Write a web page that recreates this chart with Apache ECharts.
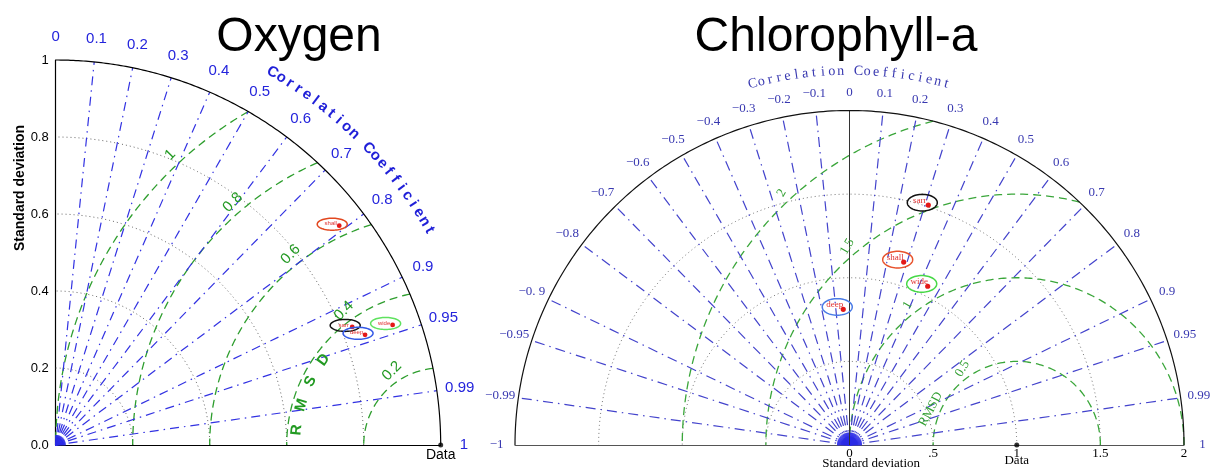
<!DOCTYPE html>
<html><head><meta charset="utf-8">
<script src="https://cdn.jsdelivr.net/npm/echarts@6/dist/echarts.min.js"></script>
<style>html,body{margin:0;padding:0;background:#fff}#c{width:1215px;height:469px}</style>
</head><body><div id="c"></div>
<script>
// ================= DATA =================
const models = ['shall', 'sarr', 'deep', 'wide'];
// Oxygen (normalised standard deviation, correlation)
const oxygenStd  = [0.931, 0.829, 0.853, 0.929];
const oxygenCorr = [0.791, 0.929, 0.942, 0.942];
// Chlorophyll-a
const chlStd  = [1.141, 1.510, 0.812, 1.058];
const chlCorr = [0.284, 0.312, -0.046, 0.442];
const refStd = 1; // "Data"

const oxyStdTicks = [0, 0.2, 0.4, 0.6, 0.8, 1];
const oxyStdTickLabels = ['0.0', '0.2', '0.4', '0.6', '0.8', '1'];
const oxyStdArcs = [0.2, 0.4, 0.6, 0.8];
const oxyCorrTicks = [0, 0.1, 0.2, 0.3, 0.4, 0.5, 0.6, 0.7, 0.8, 0.9, 0.95, 0.99, 1];
const oxyCorrLabels = ['0', '0.1', '0.2', '0.3', '0.4', '0.5', '0.6', '0.7', '0.8', '0.9', '0.95', '0.99', '1'];
const oxyRmsLevels = [0.2, 0.4, 0.6, 0.8, 1];
const oxyRmsLabels = ['0.2', '0.4', '0.6', '0.8', '1'];

const chlStdTicks = [0, 0.5, 1, 1.5, 2];
const chlStdTickLabels = ['0', '.5', '1', '1.5', '2'];
const chlStdArcs = [0.5, 1, 1.5];
const chlCorrTicks = [-1, -0.99, -0.95, -0.9, -0.8, -0.7, -0.6, -0.5, -0.4, -0.3, -0.2, -0.1, 0, 0.1, 0.2, 0.3, 0.4, 0.5, 0.6, 0.7, 0.8, 0.9, 0.95, 0.99, 1];
const chlCorrLabels = ['\u22121', '\u22120.99', '\u22120.95', '\u22120. 9', '\u22120.8', '\u22120.7', '\u22120.6', '\u22120.5', '\u22120.4', '\u22120.3', '\u22120.2', '\u22120.1', '0', '0.1', '0.2', '0.3', '0.4', '0.5', '0.6', '0.7', '0.8', '0.9', '0.95', '0.99', '1'];
const chlRmsLevels = [0.5, 1, 1.5, 2];
const chlRmsLabels = ['0.5', '1', '1.5', '2'];

// ================= STYLE =================
const modelStyle = {
  shall: { left: '#e2471f', right: '#e8522c' },
  sarr:  { left: '#111111', right: '#111111' },
  deep:  { left: '#3358e6', right: '#4a7be6' },
  wide:  { left: '#5fe25f', right: '#46d846' }
};
const SANS = 'Liberation Sans', SERIF = 'Liberation Serif';
const DEG = Math.PI / 180;

// ================= HELPERS =================
function toXY(std, c) { return [std * c, std * Math.sqrt(Math.max(0, 1 - c * c))]; }
function lineSeries(gi, pts, lineStyle, z) {
  return { type: 'line', xAxisIndex: gi, yAxisIndex: gi, data: pts, showSymbol: false, symbol: 'none',
    clip: false, silent: true, animation: false, lineStyle: lineStyle, z: z || 2 };
}
function arcPts(r, a0, a1) {
  const pts = [], n = 240;
  for (let i = 0; i <= n; i++) { const a = (a0 + (a1 - a0) * i / n) * DEG; pts.push([r * Math.cos(a), r * Math.sin(a)]); }
  return pts;
}
function rmsArc(r, ref, R, quadrant) {
  const clamp = v => Math.max(-1, Math.min(1, v));
  const p0 = Math.acos(clamp((R * R - ref * ref - r * r) / (2 * ref * r)));
  const p1 = quadrant ? Math.acos(clamp(-ref / r)) : Math.PI;
  const pts = [], n = 240;
  for (let i = 0; i <= n; i++) { const p = p0 + (p1 - p0) * i / n; pts.push([ref + r * Math.cos(p), r * Math.sin(p)]); }
  return pts;
}
function textSeries(gi, items, z) {
  return { type: 'custom', xAxisIndex: gi, yAxisIndex: gi, clip: false, silent: true, animation: false, z: z || 6,
    data: items.map((d, i) => [d.x, d.y, i]),
    renderItem: (params, api) => {
      const d = items[params.dataIndex]; const p = api.coord([d.x, d.y]);
      return { type: 'text', x: p[0], y: p[1], rotation: (d.rot || 0) * DEG,
        style: { text: d.text, fill: d.color, fontSize: d.size, fontFamily: d.font, fontWeight: d.weight || 'normal',
          align: 'center', verticalAlign: 'middle' } };
    } };
}
function fanSeries(gi, a0, a1, step, radiusPx, color) {
  return { type: 'custom', xAxisIndex: gi, yAxisIndex: gi, clip: false, silent: true, animation: false, z: 3,
    data: [[0, 0]],
    renderItem: (params, api) => {
      const o = api.coord([0, 0]); const children = [];
      for (let a = a0; a <= a1 + 1e-9; a += step) {
        children.push({ type: 'line', shape: { x1: o[0], y1: o[1], x2: o[0] + radiusPx * Math.cos(a * DEG), y2: o[1] - radiusPx * Math.sin(a * DEG) },
          style: { stroke: color, lineWidth: 0.8 } });
      }
      return { type: 'group', children };
    } };
}
function ellipseSeries(gi, stds, corrs, side, cfg) {
  return { type: 'custom', xAxisIndex: gi, yAxisIndex: gi, clip: false, silent: true, animation: false, z: 10,
    data: stds.map((s, i) => toXY(s, corrs[i]).concat([i])),
    renderItem: (params, api) => {
      const i = params.dataIndex; const p = api.coord([api.value(0), api.value(1)]);
      const cx = p[0] + cfg.off[0], cy = p[1] + cfg.off[1]; const pts = [];
      for (let k = 0; k < 64; k++) { const t = k / 64 * 2 * Math.PI; pts.push([cx + cfg.rx * Math.cos(t), cy + cfg.ry * Math.sin(t)]); }
      return { type: 'group', children: [
        { type: 'polygon', shape: { points: pts }, style: { fill: 'none', stroke: modelStyle[models[i]][side], lineWidth: cfg.lw } },
        { type: 'text', x: p[0] + cfg.lab[0], y: p[1] + cfg.lab[1],
          style: { text: models[i], fill: '#e03030', fontSize: cfg.fs, fontFamily: cfg.font, align: 'center', verticalAlign: 'middle' } },
        { type: 'circle', shape: { cx: p[0], cy: p[1], r: cfg.dot }, style: { fill: '#e41818' } }
      ] };
    } };
}

const series = [];
// ================= OXYGEN (grid 0) =================
(function () {
  const gi = 0, R = 1;
  oxyStdArcs.forEach(r => series.push(lineSeries(gi, arcPts(r, 0, 90), { color: '#666', width: 1, type: [1, 3] })));
  oxyRmsLevels.forEach(r => series.push(lineSeries(gi, rmsArc(r, refStd, R, true), { color: '#2e9e2e', width: 1.3, type: [8, 5] })));
  oxyCorrTicks.forEach(c => { if (c > 0 && c < 1) series.push(lineSeries(gi, [[0, 0], toXY(R, c)], { color: '#3232e2', width: 1.2, type: [9, 5, 1.5, 5], dashOffset: 7.5 })); });
  series.push(fanSeries(gi, 0, 90, 2.5, 10, '#2a2ae6'));
  series.push(lineSeries(gi, arcPts(R, 0, 90), { color: '#000', width: 1.2 }, 4));
  const items = [];
  oxyCorrTicks.forEach((c, i) => { const p = toXY(1.06, c); items.push({ x: p[0], y: p[1], text: oxyCorrLabels[i], color: '#2424dc', size: 15, font: SANS }); });
  const cc = 'Correlation Coefficient';
  for (let k = 0; k < cc.length; k++) { const a = 59.8 - k * (29.9 / (cc.length - 1)); items.push({ x: 1.12 * Math.cos(a * DEG), y: 1.12 * Math.sin(a * DEG), text: cc[k], rot: a - 90, color: '#1f1fd8', size: 15, weight: 'bold', font: SANS }); }
  oxyRmsLevels.forEach((r, i) => { const ph = (121 + 12 * r) * DEG; items.push({ x: refStd + (r + 0.03) * Math.cos(ph), y: (r + 0.03) * Math.sin(ph), text: oxyRmsLabels[i], rot: 45, color: '#249a24', size: 15, font: SANS }); });
  ['R', 'M', 'S', 'D'].forEach((ch, k) => { const ph = 174 - 10 * k; items.push({ x: refStd + 0.376 * Math.cos(ph * DEG), y: 0.376 * Math.sin(ph * DEG), text: ch, rot: ph - 90, color: '#229a22', size: 15, weight: 'bold', font: SANS }); });
  items.push({ x: refStd, y: -0.027, text: 'Data', color: '#000', size: 14, font: SANS });
  series.push(textSeries(gi, items));
  series.push({ type: 'scatter', xAxisIndex: gi, yAxisIndex: gi, data: [[refStd, 0]], symbolSize: 5, itemStyle: { color: '#000' }, silent: true, animation: false, clip: false, z: 8 });
  series.push(ellipseSeries(gi, oxygenStd, oxygenCorr, 'left', { off: [-7, -1.5], rx: 15, ry: 6, lw: 1.5, lab: [-8.5, -2], fs: 6, font: SANS, dot: 2.4 }));
})();

// ================= CHLOROPHYLL-A (grid 1) =================
(function () {
  const gi = 1, R = 2;
  chlStdArcs.forEach(r => series.push(lineSeries(gi, arcPts(r, 0, 180), { color: '#777', width: 1, type: [1, 3] })));
  chlRmsLevels.forEach(r => series.push(lineSeries(gi, rmsArc(r, refStd, R, false), { color: '#3aa63a', width: 1.3, type: [8, 5] })));
  chlCorrTicks.forEach(c => { if (c > -1 && c < 1 && c !== 0) series.push(lineSeries(gi, [[0, 0], toXY(R, c)], { color: '#4343cc', width: 1.2, type: [10, 5, 1.5, 5], dashOffset: 1.5 })); });
  series.push(lineSeries(gi, [[0, 0], [0, R]], { color: '#333', width: 1 }, 4));
  series.push(fanSeries(gi, 0, 180, 2.5, 12.5, '#2a2ae6'));
  series.push(lineSeries(gi, arcPts(R, 0, 180), { color: '#111', width: 1.2 }, 4));
  const items = [];
  chlCorrTicks.forEach((c, i) => { const p = toXY(2.11, c); items.push({ x: p[0], y: p[1], text: chlCorrLabels[i], color: '#3838b0', size: 13, font: SERIF }); });
  const cc = 'Correlation Coefficient';
  for (let k = 0; k < cc.length; k++) { const a = 105 - k * (30 / (cc.length - 1)); items.push({ x: 2.236 * Math.cos(a * DEG), y: 2.236 * Math.sin(a * DEG), text: cc[k], rot: a - 90, color: '#3838b0', size: 14, font: SERIF }); }
  chlRmsLevels.forEach((r, i) => { const ph = (123 + 5 * r) * DEG; items.push({ x: refStd + (r + 0.06) * Math.cos(ph), y: (r + 0.06) * Math.sin(ph), text: chlRmsLabels[i], rot: 60, color: '#33a033', size: 13, font: SERIF }); });
  items.push({ x: refStd + 0.557 * Math.cos(157.4 * DEG), y: 0.557 * Math.sin(157.4 * DEG), text: 'RMSD', rot: 62, color: '#33a033', size: 13, font: SERIF });
  items.push({ x: refStd, y: -0.096, text: 'Data', color: '#000', size: 13, font: SERIF });
  items.push({ x: 0.129, y: -0.114, text: 'Standard deviation', color: '#000', size: 13, font: SERIF });
  series.push(textSeries(gi, items));
  series.push({ type: 'scatter', xAxisIndex: gi, yAxisIndex: gi, data: [[refStd, 0]], symbolSize: 5, itemStyle: { color: '#000' }, silent: true, animation: false, clip: false, z: 8 });
  series.push(ellipseSeries(gi, chlStd, chlCorr, 'right', { off: [-6, -2.4], rx: 15, ry: 8.3, lw: 1.5, lab: [-8.5, -4.7], fs: 9, font: SERIF, dot: 2.6 }));
})();

function tickLabel(ticks, labels) {
  return v => { for (let i = 0; i < ticks.length; i++) if (Math.abs(v - ticks[i]) < 1e-6) return labels[i]; return ''; };
}

const option = {
  backgroundColor: '#fff',
  animation: false,
  grid: [
    { left: 55.7, top: 60, width: 385, height: 385, containLabel: false, outerBoundsMode: 'none' },
    { left: 515, top: 110.5, width: 669, height: 334.5, containLabel: false, outerBoundsMode: 'none' }
  ],
  xAxis: [
    { gridIndex: 0, type: 'value', min: 0, max: 1, interval: 0.2, axisLine: { show: true, onZero: false, lineStyle: { color: '#000', width: 1.2 } },
      axisTick: { show: false }, axisLabel: { show: false }, splitLine: { show: false } },
    { gridIndex: 1, type: 'value', min: -2, max: 2, interval: 0.5, axisLine: { show: true, onZero: false, lineStyle: { color: '#555', width: 1.2 } },
      axisTick: { show: false }, splitLine: { show: false },
      axisLabel: { show: true, margin: 2, color: '#000', fontSize: 13, fontFamily: SERIF, formatter: tickLabel(chlStdTicks, chlStdTickLabels), showMinLabel: true, showMaxLabel: true } }
  ],
  yAxis: [
    { gridIndex: 0, type: 'value', min: 0, max: 1, interval: 0.2, axisLine: { show: true, onZero: false, lineStyle: { color: '#000', width: 1.2 } },
      axisTick: { show: false }, splitLine: { show: false },
      axisLabel: { show: true, margin: 7, color: '#000', fontSize: 13, fontFamily: SANS, formatter: tickLabel(oxyStdTicks, oxyStdTickLabels), showMinLabel: true, showMaxLabel: true } },
    { gridIndex: 1, type: 'value', min: 0, max: 2, show: false }
  ],
  graphic: [
    { type: 'text', x: 299, y: 14, style: { text: 'Oxygen', fontSize: 48, fontFamily: SANS, fill: '#000', align: 'center', verticalAlign: 'top' } },
    { type: 'text', x: 836, y: 14, style: { text: 'Chlorophyll-a', fontSize: 48, fontFamily: SANS, fill: '#000', align: 'center', verticalAlign: 'top' } },
    { type: 'text', x: 20, y: 188, rotation: Math.PI / 2, style: { text: 'Standard deviation', fontSize: 14, fontWeight: 'bold', fontFamily: SANS, fill: '#000', align: 'center', verticalAlign: 'middle' } }
  ],
  series: series
};
const chart = echarts.init(document.getElementById('c'), null, { renderer: 'canvas' });
chart.setOption(option);
</script>
</body></html>
